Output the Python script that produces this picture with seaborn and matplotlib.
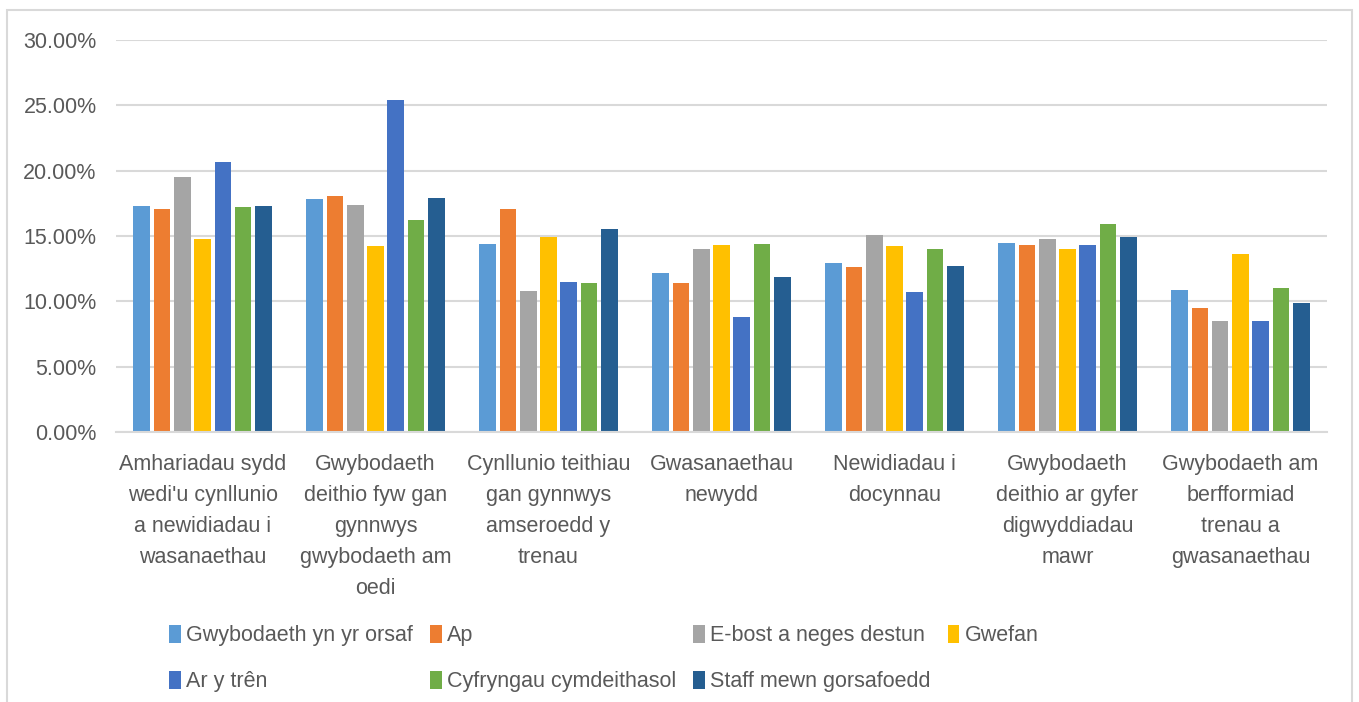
import numpy as np
import pandas as pd
import matplotlib as mpl
mpl.use('Agg')
import matplotlib.pyplot as plt
import seaborn as sns
from matplotlib.patches import Rectangle

# ── Data ──────────────────────────────────────────────────────────────────
categories = [
    "Amhariadau sydd\nwedi'u cynllunio\na newidiadau i\nwasanaethau",
    "Gwybodaeth\ndeithio fyw gan\ngynnwys\ngwybodaeth am\noedi",
    "Cynllunio teithiau\ngan gynnwys\namseroedd y\ntrenau",
    "Gwasanaethau\nnewydd",
    "Newidiadau i\ndocynnau",
    "Gwybodaeth\ndeithio ar gyfer\ndigwyddiadau\nmawr",
    "Gwybodaeth am\nberfformiad\ntrenau a\ngwasanaethau",
]
series = [
    "Gwybodaeth yn yr orsaf", "Ap", "E-bost a neges destun", "Gwefan",
    "Ar y trên", "Cyfryngau cymdeithasol", "Staff mewn gorsafoedd",
]
gorsaf = [17.3, 17.8, 14.4, 12.2, 12.9, 14.5, 10.9]
ap = [17.1, 18.1, 17.1, 11.4, 12.6, 14.3, 9.5]
ebost = [19.5, 17.4, 10.8, 14.0, 15.1, 14.8, 8.5]
gwefan = [14.8, 14.2, 14.9, 14.3, 14.2, 14.0, 13.6]
tren = [20.7, 25.4, 11.5, 8.8, 10.7, 14.3, 8.5]
cyfryngau = [17.2, 16.2, 11.4, 14.4, 14.0, 15.9, 11.0]
staff = [17.3, 17.9, 15.5, 11.9, 12.7, 14.9, 9.9]

colors = ['#5B9BD5', '#ED7D31', '#A5A5A5', '#FFC000',
          '#4472C4', '#70AD47', '#255E91']

values = [gorsaf, ap, ebost, gwefan, tren, cyfryngau, staff]
rows = []
for s, vals in zip(series, values):
    for c, v in zip(categories, vals):
        rows.append({'cat': c, 'series': s, 'val': v / 100})
df = pd.DataFrame(rows)

# ── Plot ──────────────────────────────────────────────────────────────────
sns.set_theme(style='white')
plt.rcParams['font.family'] = ['Liberation Sans', 'DejaVu Sans']
TXT = '#595959'

fig = plt.figure(figsize=(13.59, 7.02), dpi=100)
ax = fig.add_axes([0.0854, 0.3846, 0.891, 0.5584])

sns.barplot(data=df, x='cat', y='val', hue='series', order=categories,
            hue_order=series, palette=colors, width=0.82, gap=0.18,
            saturation=1, linewidth=0, ax=ax)

ax.set_ylim(0, 0.30)
ax.set_yticks(np.arange(0, 0.301, 0.05))
ax.yaxis.set_major_formatter(mpl.ticker.FuncFormatter(lambda v, p: f'{v*100:.2f}%'))
ax.yaxis.grid(True, color='#D9D9D9', linewidth=1.5)
ax.set_axisbelow(True)
for sp in ['top', 'right', 'left']:
    ax.spines[sp].set_visible(False)
ax.spines['bottom'].set_color('#D9D9D9')
ax.spines['bottom'].set_linewidth(1.5)
ax.tick_params(axis='both', length=0, labelsize=15.5, colors=TXT)
ax.tick_params(axis='y', pad=14)
ax.tick_params(axis='x', pad=16)
for lab in ax.get_xticklabels():
    lab.set_linespacing(1.62)
    lab.set_verticalalignment('top')
ax.set_xlabel('')
ax.set_ylabel('')

# legend laid out row by row, like the original
handles, labels = ax.get_legend_handles_labels()
ax.legend_.remove()
order = [0, 4, 1, 5, 2, 6, 3]
fig.legend([handles[i] for i in order], [labels[i] for i in order],
           ncol=4, loc='upper left',
           bbox_to_anchor=(0.118, 0.122), frameon=False,
           fontsize=15.5, labelcolor=TXT, handlelength=0.55, handleheight=0.9,
           handletextpad=0.25, columnspacing=0.78, labelspacing=1.15,
           borderaxespad=0)

# chart-area border
fig.add_artist(Rectangle((0.0052, -0.05), 0.9895, 1.036, transform=fig.transFigure,
                         fill=False, edgecolor='#D9D9D9', linewidth=1.5))

fig.savefig('out.png', dpi=100)
